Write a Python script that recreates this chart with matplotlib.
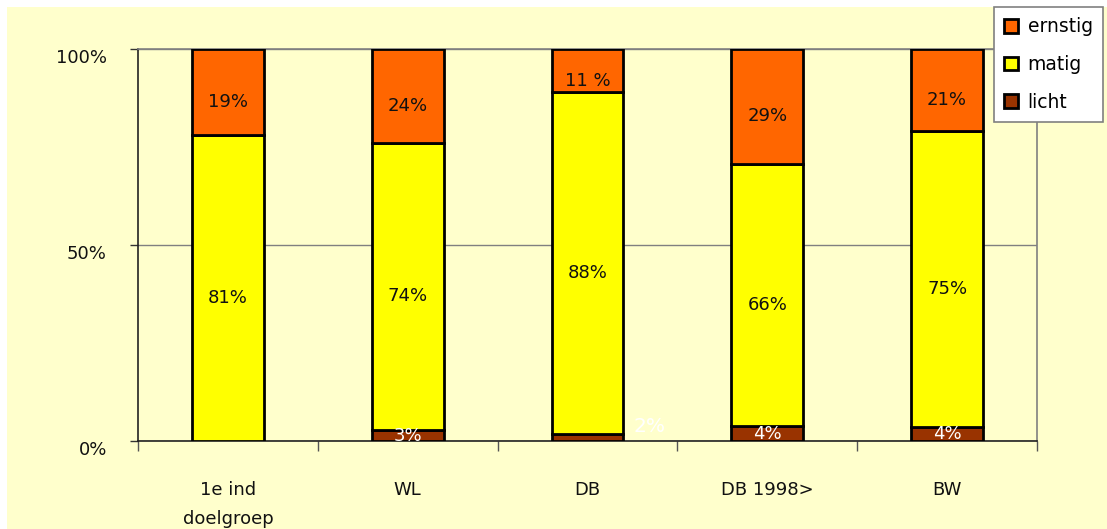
import numpy as np
from matplotlib import pyplot as plt
from matplotlib.patches import Rectangle

categories = ['1e ind\ndoelgroep', 'WL', 'DB', 'DB 1998>', 'BW']
# bar heights (percent)
licht = [0.0, 2.8, 1.8, 3.8, 3.6]
matig = [78.0, 73.3, 87.2, 66.9, 75.5]
ernstig = [22.0, 23.9, 11.0, 29.3, 20.9]
# data label texts as shown
licht_lab = ['', '3%', '2%', '4%', '4%']
matig_lab = ['81%', '74%', '88%', '66%', '75%']
ernstig_lab = ['19%', '24%', '11 %', '29%', '21%']

bg = '#FFFFCC'
col_licht = '#993300'
col_matig = '#FFFF00'
col_ernstig = '#FF6600'

W, H = 1107, 529
fig = plt.figure(figsize=(W / 100, H / 100), dpi=100, facecolor='white')
fig.patches.append(Rectangle((7 / W, 0), 1 - 7 / W, 1 - 7 / H, transform=fig.transFigure,
                             facecolor=bg, edgecolor='none', zorder=-10))
ax = fig.add_axes([138 / W, 1 - 441 / H, (1037 - 138) / W, (441 - 49) / H])
ax.set_facecolor(bg)

fs = 13
x = np.arange(len(categories))
w = 0.4
kw = dict(width=w, edgecolor='black', linewidth=2, zorder=3)
b1 = ax.bar(x, licht, color=col_licht, label='licht', **kw)
b2 = ax.bar(x, matig, bottom=licht, color=col_matig, label='matig', **kw)
bot3 = np.array(licht) + np.array(matig)
b3 = ax.bar(x, ernstig, bottom=bot3, color=col_ernstig, label='ernstig', **kw)

for i in range(len(categories)):
    # ernstig + matig labels sit a bit below the middle of the segment
    ax.annotate(ernstig_lab[i], (x[i], bot3[i] + ernstig[i] / 2), xytext=(0, -10),
                textcoords='offset pixels', ha='center', va='center', fontsize=fs, color='#111111', zorder=5)
    ax.annotate(matig_lab[i], (x[i], licht[i] + matig[i] / 2), xytext=(0, -10),
                textcoords='offset pixels', ha='center', va='center', fontsize=fs, color='#111111', zorder=5)
    if licht_lab[i] == '':
        continue
    if categories[i] == 'DB':
        ax.annotate(licht_lab[i], (x[i] + w / 2, licht[i] / 2), xytext=(26, 11),
                    textcoords='offset pixels', ha='center', va='center', fontsize=14.5, color='white', zorder=5)
    else:
        ax.annotate(licht_lab[i], (x[i], licht[i] / 2), xytext=(0, 0),
                    textcoords='offset pixels', ha='center', va='center', fontsize=fs, color='white', zorder=5)

ax.set_xlim(-0.5, len(categories) - 0.5)
ax.set_ylim(0, 100)
ax.set_yticks([0, 50, 100])
ax.set_yticklabels(['0%', '50%', '100%'], fontsize=fs, color='#111111')
for lbl in ax.get_yticklabels():
    lbl.set_va('top')
ax.tick_params(axis='y', length=6, width=1, pad=16.5, color='#333333')
ax.yaxis.grid(True, color='#808080', linewidth=1, zorder=0)

ax.set_xticks(np.arange(len(categories) + 1) - 0.5)
ax.set_xticklabels([])
ax.tick_params(axis='x', which='major', length=7, width=1, color='#555555')
ax.set_xticks(x, minor=True)
ax.set_xticklabels(categories, minor=True, fontsize=fs, color='#111111', linespacing=1.85)
ax.tick_params(axis='x', which='minor', length=0, pad=28.5)

ax.spines['left'].set_color('#222222')
ax.spines['bottom'].set_color('#222222')
ax.spines['top'].set_color('#808080')
ax.spines['right'].set_color('#808080')
for s in ax.spines.values():
    s.set_linewidth(1.2)

leg = fig.legend([b3, b2, b1], ['ernstig', 'matig', 'licht'], loc='upper right',
                 bbox_to_anchor=(1103 / W, 1 - 7 / H), borderaxespad=0, fontsize=13.5,
                 handlelength=0.75, handleheight=0.75, handletextpad=0.5, labelspacing=1.0,
                 fancybox=False, framealpha=1, edgecolor='#808080', borderpad=0.55)
leg.get_frame().set_linewidth(1.2)

fig.savefig('out.png', dpi=100, facecolor=fig.get_facecolor())
